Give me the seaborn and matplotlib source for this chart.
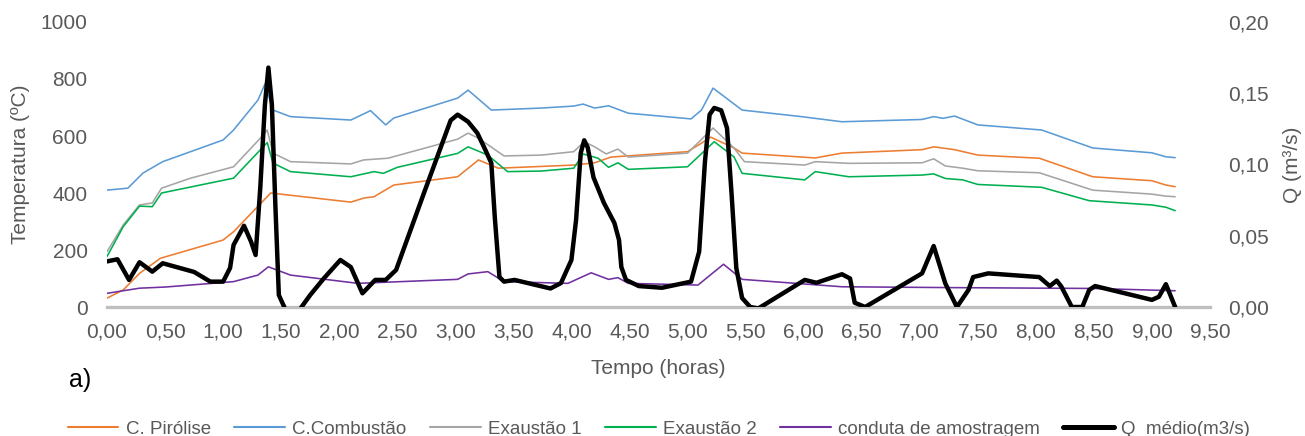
import numpy as np
import matplotlib
matplotlib.use("Agg")
import matplotlib.pyplot as plt
import seaborn as sns
from matplotlib.ticker import FuncFormatter, MultipleLocator
from matplotlib.lines import Line2D

sns.set_theme(style="white")
plt.rcParams["font.family"] = ["Liberation Sans", "DejaVu Sans"]

TXT = "#595959"

# C. Pirólise (ºC)
t_pir = [0, 0.14, 0.28, 0.46, 1.0, 1.09, 1.41, 2.1, 2.21, 2.3, 2.47, 3.02, 3.2, 3.37,
         4.02, 4.2, 4.34, 5.0, 5.12, 5.2, 5.4, 5.47, 6.1, 6.33, 7.02, 7.12, 7.3, 7.5,
         8.03, 8.49, 9.0, 9.12, 9.2]
pir = [31, 60, 118, 171, 235, 264, 400, 368, 382, 387, 428, 457, 516, 487,
       498, 506, 526, 545, 575, 596, 558, 540, 523, 540, 552, 562, 552, 533,
       522, 457, 443, 428, 422]

# C.Combustão (ºC)
t_comb = [0, 0.18, 0.31, 0.48, 0.72, 1.0, 1.09, 1.3, 1.36, 1.43, 1.58, 2.1, 2.27, 2.4,
          2.47, 3.02, 3.11, 3.31, 3.74, 4.02, 4.10, 4.2, 4.32, 4.49, 5.03, 5.12, 5.22,
          5.47, 5.98, 6.33, 7.02, 7.12, 7.2, 7.3, 7.5, 8.05, 8.49, 9.0, 9.12, 9.2]
comb = [410, 417, 470, 510, 545, 586, 621, 726, 782, 691, 668, 656, 689, 639,
        663, 733, 761, 691, 698, 705, 712, 698, 706, 680, 660, 691, 768,
        691, 668, 650, 658, 668, 662, 670, 639, 621, 558, 541, 527, 524]

# Exaustão 1 (ºC)
t_ex1 = [0, 0.14, 0.28, 0.39, 0.47, 0.72, 1.09, 1.32, 1.38, 1.43, 1.58, 2.1, 2.21, 2.42,
         3.02, 3.11, 3.2, 3.42, 3.74, 4.02, 4.11, 4.2, 4.3, 4.4, 4.49, 5.0, 5.22, 5.4,
         5.49, 6.01, 6.1, 6.39, 7.02, 7.12, 7.22, 7.37, 7.5, 8.03, 8.49, 9.0, 9.12, 9.2]
ex1 = [194, 288, 358, 365, 417, 452, 492, 592, 621, 540, 510, 502, 516, 522,
       589, 610, 592, 530, 533, 545, 580, 562, 537, 554, 526, 540, 628, 558,
       510, 498, 510, 504, 506, 520, 495, 487, 478, 471, 410, 396, 389, 387]

# Exaustão 2 (ºC)
t_ex2 = [0, 0.14, 0.28, 0.39, 0.47, 1.09, 1.38, 1.43, 1.58, 2.1, 2.3, 2.38, 2.5, 3.02,
         3.11, 3.28, 3.45, 3.74, 4.02, 4.1, 4.23, 4.32, 4.4, 4.49, 5.0, 5.23, 5.4, 5.47,
         6.01, 6.1, 6.39, 7.02, 7.12, 7.22, 7.37, 7.5, 8.05, 8.46, 9.0, 9.12, 9.2]
ex2 = [177, 282, 354, 352, 400, 452, 577, 505, 475, 457, 475, 469, 490, 539,
       562, 533, 475, 477, 487, 537, 522, 490, 506, 483, 492, 580, 527, 469,
       446, 475, 457, 463, 467, 451, 446, 430, 420, 373, 358, 350, 338]

# conduta de amostragem (ºC)
t_cond = [0, 0.28, 0.5, 1.09, 1.3, 1.39, 1.58, 2.16, 3.02, 3.11, 3.28, 3.42, 3.97, 4.17,
          4.32, 4.4, 4.49, 5.09, 5.31, 5.47, 6.33, 7.28, 8.5, 9.2]
cond = [48, 66, 70, 89, 112, 141, 112, 83, 97, 116, 124, 89, 83, 120,
        97, 103, 83, 77, 150, 97, 71, 68, 65, 57]

# Q médio (m3/s)
t_q = [0, 0.09, 0.19, 0.28, 0.39, 0.48, 0.75, 0.89, 1.0, 1.06, 1.09, 1.18, 1.24, 1.28,
       1.32, 1.36, 1.39, 1.42, 1.45, 1.48, 1.56, 1.64, 1.75, 1.87, 2.01, 2.1, 2.2,
       2.31, 2.4, 2.49, 2.73, 2.96, 3.02, 3.11, 3.19, 3.26, 3.31, 3.34, 3.38, 3.42,
       3.51, 3.82, 3.91, 4.0, 4.04, 4.08, 4.11, 4.14, 4.19, 4.28, 4.37, 4.41, 4.43,
       4.47, 4.58, 4.78, 5.03, 5.10, 5.15, 5.19, 5.23, 5.29, 5.34, 5.38, 5.42, 5.47,
       5.54, 5.61, 6.01, 6.11, 6.33, 6.4, 6.44, 6.53, 7.02, 7.12, 7.22, 7.32, 7.42,
       7.46, 7.59, 8.03, 8.12, 8.18, 8.22, 8.31, 8.4, 8.46, 8.51, 9.0, 9.06, 9.12, 9.2]
q = [0.032, 0.0335, 0.019, 0.0314, 0.0248, 0.0307, 0.0246, 0.0178, 0.0178, 0.0274,
     0.0435, 0.057, 0.046, 0.0365, 0.0835, 0.142, 0.168, 0.142, 0.0716, 0.0084,
     -0.006, -0.004, 0.0084, 0.0203, 0.033, 0.028, 0.0096, 0.019, 0.019, 0.026,
     0.080, 0.131, 0.135, 0.130, 0.122, 0.110, 0.101, 0.063, 0.021, 0.0178,
     0.019, 0.013, 0.0168, 0.033, 0.061, 0.108, 0.117, 0.112, 0.091, 0.073, 0.059,
     0.047, 0.028, 0.019, 0.0147, 0.0135, 0.0178, 0.0388, 0.102, 0.135, 0.1397,
     0.138, 0.1256, 0.0786, 0.0274, 0.0063, 0.0, -0.001, 0.019, 0.017, 0.023, 0.020,
     0.003, 0.0, 0.0236, 0.0428, 0.0166, 0.0, 0.012, 0.021, 0.0236, 0.021, 0.0147,
     0.0185, 0.0143, 0.0, 0.0, 0.012, 0.0147, 0.005, 0.0072, 0.016, 0.0]

temp_series = [
    ("C. Pirólise", t_pir, pir, "#ED7D31"),
    ("C.Combustão", t_comb, comb, "#5B9BD5"),
    ("Exaustão 1", t_ex1, ex1, "#A5A5A5"),
    ("Exaustão 2", t_ex2, ex2, "#00B050"),
    ("conduta de amostragem", t_cond, cond, "#7030A0"),
]
q_label = "Q  médio(m3/s)"

fig = plt.figure(figsize=(13.05, 4.36), dpi=100)
ax = fig.add_axes([107 / 1305, 1 - 307 / 436, (1210 - 107) / 1305, (307 - 22) / 436])
ax2 = ax.twinx()

handles = []
for name, tx, vals, col in temp_series:
    sns.lineplot(x=tx, y=vals, ax=ax, color=col, lw=1.15, sort=False,
                 estimator=None, legend=False)
    handles.append(Line2D([], [], color=col, lw=1.5, label=name))

sns.lineplot(x=t_q, y=q, ax=ax2, color="black", lw=3.2, sort=False,
             estimator=None, legend=False)
ax2.lines[-1].set_solid_joinstyle("round")
handles.append(Line2D([], [], color="black", lw=3.6, label=q_label))

ax.set_xlim(0, 9.5)
ax.set_ylim(0, 1000)
ax2.set_ylim(0, 0.2)

ax.xaxis.set_major_locator(MultipleLocator(0.5))
ax.yaxis.set_major_locator(MultipleLocator(200))
ax2.yaxis.set_major_locator(MultipleLocator(0.05))

comma = lambda fmt: FuncFormatter(lambda v, p: format(v, fmt).replace(".", ","))
ax.xaxis.set_major_formatter(comma(".2f"))
ax.yaxis.set_major_formatter(comma(".0f"))
ax2.yaxis.set_major_formatter(comma(".2f"))

for a in (ax, ax2):
    for s in a.spines.values():
        s.set_visible(False)
    a.grid(False)
    a.set_facecolor("none")
ax.spines["bottom"].set_visible(True)
ax.spines["bottom"].set_color("#BFBFBF")
ax.spines["bottom"].set_linewidth(2.4)
ax.spines["bottom"].set_zorder(0)

fs = 15
ax.tick_params(axis="x", length=0, pad=11, labelsize=fs, labelcolor=TXT)
ax.tick_params(axis="y", length=0, pad=14, labelsize=fs, labelcolor=TXT)
ax2.tick_params(axis="y", length=0, pad=13, labelsize=fs, labelcolor=TXT)

ax.set_xlabel("Tempo (horas)", fontsize=15, color=TXT, labelpad=12.5)
ax.set_ylabel("Temperatura (ºC)", fontsize=15, color=TXT, labelpad=8)
ax2.set_ylabel("Q (m³/s)", fontsize=15, color=TXT, labelpad=10)

ax2.set_zorder(ax.get_zorder() + 1)

fig.text(69 / 1305, 1 - 380 / 436, "a)", fontsize=18, color="black",
         ha="left", va="center")

fig.legend(handles=handles, loc="center", bbox_to_anchor=(0.505, 1 - 429 / 436),
           ncol=6, frameon=False, fontsize=13.5, handlelength=2.7,
           handletextpad=0.4, columnspacing=1.24, labelcolor=TXT)

fig.savefig("out.png", dpi=100)
